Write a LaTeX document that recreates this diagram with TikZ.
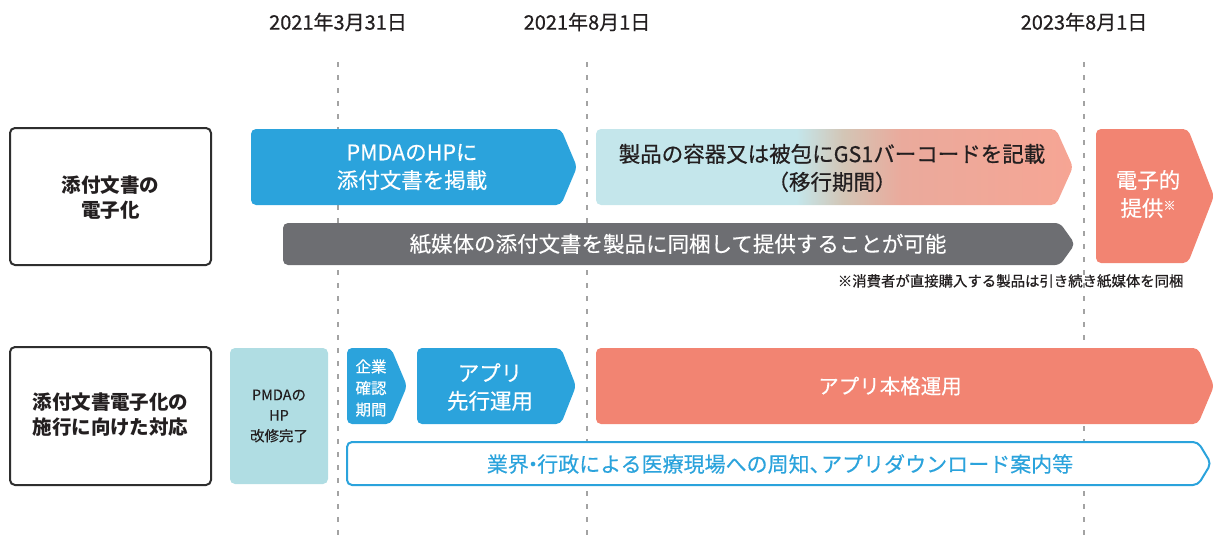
\documentclass[tikz,border=0pt]{standalone}
\usepackage{fontspec}
\setmainfont{Noto Sans CJK JP}
\newfontfamily\medfont{Noto Sans CJK JP}[FakeBold=0.6]
\newfontfamily\semifont{Noto Sans CJK JP}[FakeBold=0.3]
\definecolor{bblue}{HTML}{2BA3DC}
\definecolor{bgray}{HTML}{6D6E72}
\definecolor{salmon}{HTML}{F28472}
\definecolor{teal}{HTML}{B0DDE3}
\definecolor{cyanL}{HTML}{C4E6EB}
\definecolor{beigeM}{HTML}{D3C5B5}
\definecolor{pinkM}{HTML}{EAAA9C}
\definecolor{pinkR}{HTML}{F6A594}
\definecolor{frame}{HTML}{2E2E2E}
\definecolor{dash}{HTML}{A3A3A3}
\definecolor{txt}{HTML}{231F20}
\pgfdeclarehorizontalshading{grad}{100bp}{color(0bp)=(cyanL); color(25bp)=(cyanL); color(46bp)=(cyanL); color(51bp)=(beigeM); color(57bp)=(pinkM); color(75bp)=(pinkR); color(100bp)=(pinkR)}
\tikzset{
  datelabel/.style={font=\medfont\fontsize{20}{22}\selectfont, text=txt},
  dline/.style={draw=dash, line width=1.1pt, dash pattern=on 5pt off 8pt},
  labelbox/.style={draw=frame, line width=2pt, rounded corners=5pt, fill=white},
  shp/.style={rounded corners=5pt},
  wtxt/.style={text=white, align=center, font=\semifont\fontsize{20.5}{27}\selectfont},
  ltxt/.style={text=txt, align=center, font=\bfseries\fontsize{19.5}{25}\selectfont},
}
\begin{document}
\begin{tikzpicture}[x=1pt,y=-1pt]
\useasboundingbox (0,0) rectangle (1213,538);
% date labels
\node[datelabel] (d1) at (338,22) {2021年3月31日};
\node[datelabel] (d2) at (587,22) {2021年8月1日};
\node[datelabel] (d3) at (1084,22) {2023年8月1日};
% dashed guide lines
\coordinate (l1t) at (338,62); \coordinate (l1b) at (338,538);
\coordinate (l2t) at (587,62); \coordinate (l2b) at (587,538);
\coordinate (l3t) at (1084,62); \coordinate (l3b) at (1084,538);
\draw[dline] (l1t) -- (l1b);
\draw[dline] (l2t) -- (l2b);
\draw[dline] (l3t) -- (l3b);
% left label boxes
\draw[labelbox] (10,128) rectangle (211,265);
\node[ltxt] (lab1) at (110.5,198) {添付文書の\\電子化};
\draw[labelbox] (10,347) rectangle (211,485);
\node[ltxt] (lab2) at (110.5,415) {添付文書電子化の\\施行に向けた対応};
% row 1
\fill[bblue, shp] (251,129) -- (561,129) -- (577,167) -- (561,205) -- (251,205) -- cycle;
\node[wtxt, font=\semifont\fontsize{21.5}{28}\selectfont] (pmda) at (412,167) {PMDAのHPに\\添付文書を掲載};
\shade[shading=grad, shp] (596,129) -- (1056,129) -- (1073,167) -- (1056,205) -- (596,205) -- cycle;
\node[text=txt, align=center, font=\medfont\fontsize{21.5}{28}\selectfont] (gs1) at (832,168) {製品の容器又は被包にGS1バーコードを記載\\（移行期間）};
\fill[salmon, shp] (1096,129) -- (1188,129) -- (1214,196) -- (1188,263) -- (1096,263) -- cycle;
\node[wtxt, font=\semifont\fontsize{21.5}{28}\selectfont] (elec) at (1148,194) {電子的\\提供\raisebox{0.55ex}{\fontsize{12}{12}\selectfont ※}};
\fill[bgray, shp] (283,223) -- (1060,223) -- (1075,244) -- (1060,265) -- (283,265) -- cycle;
\node[wtxt, font=\semifont\fontsize{21.5}{24}\selectfont] (paper) at (678,244) {紙媒体の添付文書を製品に同梱して提供することが可能};
\node[text=txt, font=\medfont\fontsize{14.4}{16}\selectfont, anchor=east] (note) at (1187,281) {※消費者が直接購入する製品は引き続き紙媒体を同梱};
% row 2
\fill[teal, rounded corners=5pt] (230,348) rectangle (328,484);
\node[text=txt, align=center, font=\semifont\fontsize{14.5}{20.5}\selectfont] (hp) at (279,416) {PMDAの\\HP\\改修完了};
\fill[bblue, shp] (347,348) -- (391,348) -- (407,386) -- (391,424) -- (347,424) -- cycle;
\node[wtxt, font=\semifont\fontsize{15.5}{21.5}\selectfont] (kigyo) at (371,388) {企業\\確認\\期間};
\fill[bblue, shp] (417,348) -- (561,348) -- (576,386) -- (561,424) -- (417,424) -- cycle;
\node[wtxt, font=\semifont\fontsize{21.5}{28}\selectfont] (app1) at (490,387) {アプリ\\先行運用};
\fill[salmon, shp] (596,348) -- (1198,348) -- (1214,386) -- (1198,424) -- (596,424) -- cycle;
\node[wtxt] (app2) at (890,386) {アプリ本格運用};
\draw[bblue, fill=white, line width=2pt, shp] (347,442) -- (1198,442) -- (1211,463.5) -- (1198,485) -- (347,485) -- cycle;
\node[text=bblue, font=\semifont\fontsize{21}{24}\selectfont] (info) at (780,464) {業界\hspace{-0.3em}・\hspace{-0.3em}行政による医療現場への周知、\hspace{-0.45em}アプリダウンロード案内等};
\end{tikzpicture}
\end{document}
